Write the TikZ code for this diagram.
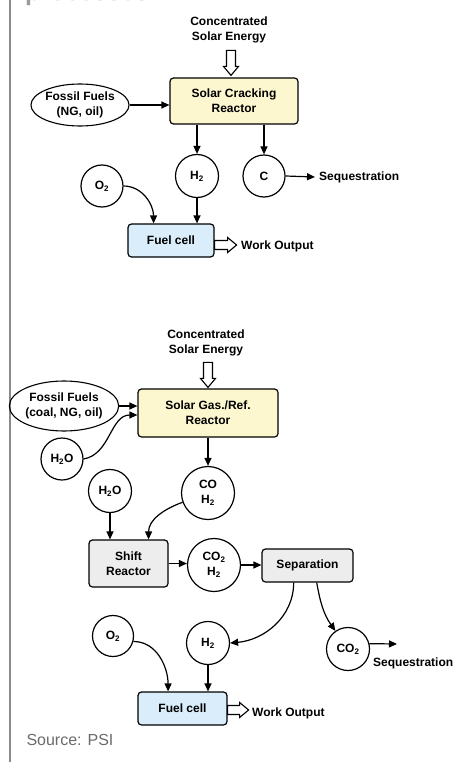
\documentclass[tikz,border=0pt]{standalone}
\usepackage{fontspec}
\setmainfont{Liberation Sans}
\usetikzlibrary{arrows.meta,shapes.geometric,calc}
\definecolor{reactor}{HTML}{FCF7CF}
\definecolor{cell}{HTML}{D9EDFA}
\definecolor{unit}{HTML}{EDEDED}
\definecolor{rule}{HTML}{8A8A8A}
\definecolor{note}{HTML}{6B6B6B}
\definecolor{head}{HTML}{9A9A9A}
\tikzset{box/.style={draw,line width=1.2pt,rounded corners=3.5pt,align=center,inner sep=0pt},
  species/.style={draw,circle,line width=1.2pt,inner sep=0pt,minimum size=43pt,align=center},
  feed/.style={draw,ellipse,line width=1.1pt,inner sep=0pt,align=center},
  arrow/.style={-{Triangle[length=8pt,width=7pt]},line width=1.2pt},
  hollow/.pic={\draw[line width=1.1pt,fill=white] (0,4.5)--({#1-9},4.5)--({#1-9},7.5)--(#1,0)
    --({#1-9},-7.5)--({#1-9},-4.5)--(0,-4.5)--cycle;}}

\begin{document}
\begin{tikzpicture}[x=1pt,y=1pt,font=\fontsize{12}{15}\selectfont\bfseries]
\useasboundingbox (0,0) rectangle (461,-762);
\begin{scope}
  \clip (0,0) rectangle (461,-762);
  \node[anchor=base west,text=head,inner sep=0pt,font=\fontsize{25}{30}\selectfont\bfseries]
    (title) at (25,-1) {processes};
\end{scope}
\draw[rule,line width=1.4pt] (10,0) -- (10,-762);

% solar cracking
\node[align=center] (cse1) at (229,-30) {Concentrated\\Solar Energy};
\node[box,fill=reactor,minimum width=128pt,minimum height=46pt] (crack) at (234,-101) {Solar Cracking\\Reactor};
\node[feed,minimum width=85pt,minimum height=42pt] (fos1) at (80,-105) {Fossil Fuels\\(NG, oil)};
\node[species] (h2a) at (197,-176) {H\textsubscript{2}};
\node[species,minimum size=42pt] (ca) at (264,-176) {C};
\node[species,minimum size=42pt] (o2a) at (102,-186) {O\textsubscript{2}};
\node[box,fill=cell,minimum width=86pt,minimum height=33pt] (fc1) at (171,-240.5) {Fuel cell};
\node[anchor=west,inner sep=0pt] (seqa) at (319,-177) {Sequestration};
\node[anchor=west,inner sep=0pt] (work1) at (241,-246) {Work Output};
\pic[rotate=-90] at ([shift={(-3,27)}]crack.north) {hollow=25};
\pic at ([yshift=-4.5pt]fc1.east) {hollow=22};
\draw[arrow] (fos1.east) -- (crack.west |- fos1.east);
\draw[arrow] (crack.south -| h2a.north) -- (h2a.north);
\draw[arrow] (crack.south -| ca.north) -- (ca.north);
\draw[arrow] (ca.east) -- ([xshift=-4pt]seqa.west);
\draw[arrow] (o2a.east) to[out=0,in=90] ($(fc1.north west)!0.3!(fc1.north east)$);
\draw[arrow] (h2a.south) -- (h2a.south |- fc1.north);

% solar gasification / reforming
\node[align=center] (cse2) at (206,-342.5) {Concentrated\\Solar Energy};
\node[box,fill=reactor,minimum width=140pt,minimum height=48pt] (gasref) at (208,-413) {Solar Gas./Ref.\\Reactor};
\node[feed,minimum width=97pt,minimum height=50pt] (fos2) at (64,-406) {Fossil Fuels\\(coal, NG, oil)};
\node[species,minimum size=42pt] (h2ob) at (62,-459) {H\textsubscript{2}O};
\node[species,minimum size=53pt] (coh2) at (208,-493) {CO\\H\textsubscript{2}};
\node[species] (h2oc) at (110,-491) {H\textsubscript{2}O};
\node[box,fill=unit,minimum width=79pt,minimum height=47pt] (shift) at (128.5,-563.5) {Shift\\Reactor};
\node[species,minimum size=53pt] (co2h2) at (214,-565) {CO\textsubscript{2}\\H\textsubscript{2}};
\node[box,fill=unit,minimum width=91pt,minimum height=33pt] (sep) at (307.5,-565.5) {Separation};
\node[species] (h2b) at (208,-643) {H\textsubscript{2}};
\node[species] (co2b) at (348,-649) {CO\textsubscript{2}};
\node[species,minimum size=41pt] (o2b) at (113,-636) {O\textsubscript{2}};
\node[box,fill=cell,minimum width=89pt,minimum height=33pt] (fc2) at (182.5,-708.5) {Fuel cell};
\node[anchor=west,inner sep=0pt] (seqb) at (373,-663) {Sequestration};
\node[anchor=west,inner sep=0pt] (work2) at (252,-713) {Work Output};
\coordinate (seqend) at (397,-644);
\pic[rotate=-90] at ([yshift=26pt]gasref.north) {hollow=25};
\pic at ([yshift=-1.5pt]fc2.east) {hollow=21};
\draw[arrow] (fos2.east) -- (gasref.west |- fos2.east);
\draw[arrow] (h2ob.east) to[out=10,in=180] ([yshift=-2pt]gasref.west);
\draw[arrow] (gasref.south) -- (coh2.north);
\draw[arrow] (h2oc.south) -- (h2oc.south |- shift.north);
\draw[arrow] (coh2.200) to[out=200,in=90] ($(shift.north west)!0.75!(shift.north east)$);
\draw[arrow] (shift.east) -- (shift.east -| co2h2.west);
\draw[arrow] (co2h2.east) -- (co2h2.east -| sep.west);
\draw[arrow] ($(sep.south west)!0.35!(sep.south east)$) to[out=-90,in=5] (h2b.east);
\draw[arrow] ($(sep.south west)!0.6!(sep.south east)$) to[out=-80,in=125] (co2b.125);
\draw[arrow] (co2b.14) -- (seqend);
\draw[arrow] (o2b.-15) to[out=0,in=90] ($(fc2.north west)!0.34!(fc2.north east)$);
\draw[arrow] (h2b.south) -- (h2b.south |- fc2.north);
\node[anchor=west,text=note,font=\fontsize{16}{19}\selectfont] (source) at (23,-740) {Source: PSI};
\end{tikzpicture}
\end{document}
